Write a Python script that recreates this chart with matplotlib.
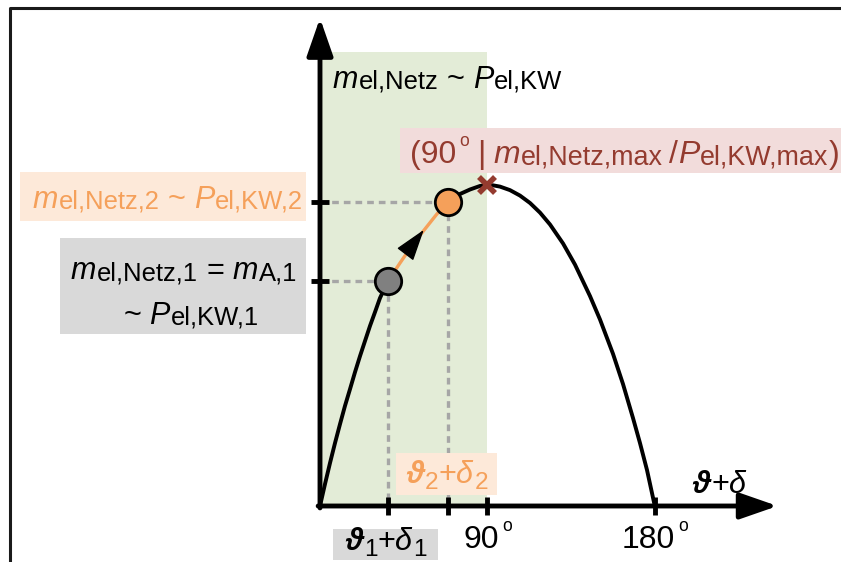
import matplotlib.pyplot as plt
from matplotlib.patches import Rectangle, FancyArrowPatch
from matplotlib.transforms import Affine2D

# power-angle curve (load angle in degrees, normalised m / P)
angle = [0, 2.69, 5.38, 8.06, 10.75, 13.44, 16.13, 18.82, 21.51, 24.19, 26.88, 29.57, 32.26, 36.56,
         43.01, 50.0, 56.45, 62.9, 68.82,
         75.27, 80.65, 86.02, 90.0, 93.0, 96.77, 102.15, 107.53, 112.9, 118.28, 123.66, 130.65,
         137.1, 145.16, 150.54, 157.53, 162.9, 168.28, 172.04, 175.81, 180]
power = [0, 0.0685, 0.134, 0.196, 0.255, 0.312, 0.364, 0.417, 0.467, 0.514, 0.561, 0.604, 0.648, 0.701,
         0.757, 0.816, 0.863, 0.910, 0.947,
         0.972, 0.986, 0.997, 1.0, 0.999, 0.995, 0.984, 0.967, 0.944, 0.914, 0.877, 0.818,
         0.752, 0.654, 0.581, 0.474, 0.380, 0.274, 0.196, 0.112, 0]

# operating points 1 and 2, maximum and stability limit
op_angle = [36.56, 68.82]
op_power = [0.701, 0.947]
max_angle = 90
max_power = 1.0
stable_limit = 90
x_ticks = [90, 180]
x_tick_labels = ['90', '180']

GREEN = '#e3ecd7'
ORANGE = '#f5a05a'
ORANGE_BG = '#fde9d9'
GRAY_BG = '#d9d9d9'
RED = '#943b2f'
RED_BG = '#f2dcdb'
DASH = '#a6a6a6'

plt.rcParams['font.family'] = ['Liberation Sans', 'DejaVu Sans']

fig = plt.figure(figsize=(8.41, 5.62), dpi=100)
ax = fig.add_axes([0, 0, 1, 1])
k = 1.86      # pixels per degree
amp = 321     # pixels for the maximum
ax.set_xlim(-320 / k, 521 / k)
ax.set_ylim(-56 / amp, 506 / amp)
ax.axis('off')

# pixel coordinates (from top left) for the annotation layout
pix = Affine2D().scale(1 / 841, -1 / 562).translate(0, 1) + fig.transFigure
renderer = fig.canvas.get_renderer()


def to_pix(xd, yd):
    dx, dy = ax.transData.transform((xd, yd))
    return dx, 562 - dy


def rich(x, y, parts, size, ha='left', color='k', sub=0.84):
    """Write a label piece by piece: i italic, r regular, b bold italic,
    s subscript, l lowered subscript, u degree ring, g gap in pixels."""
    texts = []
    cx = x
    for s, kind in parts:
        if kind == 'g':
            cx += s
            continue
        fs, style, weight, dy = size, 'normal', 'normal', 0
        if kind == 'i':
            style = 'italic'
        elif kind == 'b':
            style, weight = 'italic', 'bold'
        elif kind == 's':
            fs, dy = size * sub, 1
        elif kind == 'l':
            fs, dy = size * 0.8, 6
        elif kind == 'u':
            fs, dy = size * 0.55, -size * 0.72
            cx += 3
        t = ax.text(cx, y + dy, s, transform=pix, fontsize=fs, style=style, weight=weight,
                    color=color, va='baseline', ha='left', zorder=7)
        cx += t.get_window_extent(renderer).width + (1 if kind in 'ib' else 0)
        texts.append(t)
    shift = {'left': 0, 'center': (cx - x) / 2, 'right': cx - x}[ha]
    for t in texts:
        t.set_x(t.get_position()[0] - shift)


# outer frame
ax.plot([10, 10, 841], [562, 8, 8], transform=pix, color='#1a1a1a', lw=2.2, clip_on=False)

# stable region
ax.add_patch(Rectangle((0, 0), stable_limit, 1.414, color=GREEN, lw=0, zorder=0))

# guide lines to the operating points
for a, p in zip(op_angle, op_power):
    ax.plot([0, a, a], [p, p, 0], ls=(0, (2, 1.5)), color=DASH, lw=2.4, zorder=1)

# axes with arrows
head = '-|>,head_length=2.3,head_width=0.8'
ax.add_patch(FancyArrowPatch((0, -0.006), (0, 1.52), arrowstyle=head, mutation_scale=10,
                             lw=3.5, color='k', shrinkA=0, shrinkB=0, zorder=3))
ax.add_patch(FancyArrowPatch((-1, 0), (246, 0), arrowstyle=head, mutation_scale=10,
                             lw=3.5, color='k', shrinkA=0, shrinkB=0, zorder=3))
ax.plot([0, 0], op_power, '_', ms=13, mew=3.5, color='k', zorder=3)
ax.plot(op_angle + x_ticks, [0] * 4, '|', ms=13, mew=3.5, color='k', zorder=3)

# curve: black, orange between the two operating points
i1 = angle.index(op_angle[0])
i2 = angle.index(op_angle[1])
ax.plot(angle[:i1 + 1], power[:i1 + 1], color='k', lw=2.8, zorder=4, solid_capstyle='round')
ax.plot(angle[i2:], power[i2:], color='k', lw=2.8, zorder=4, solid_capstyle='round')
ax.plot(angle[i1:i2 + 1], power[i1:i2 + 1], color=ORANGE, lw=2.4, zorder=4)

# direction arrow on the orange part
da = op_angle[1] - op_angle[0]
dp = op_power[1] - op_power[0]
mid = (angle[i1 + 2], power[i1 + 2])
ax.add_patch(FancyArrowPatch((mid[0] - 0.08 * da, mid[1] - 0.08 * dp), (mid[0] + 0.18 * da, mid[1] + 0.18 * dp),
                             arrowstyle='-|>,head_length=2.0,head_width=0.65', mutation_scale=10,
                             lw=1, color='k', shrinkA=0, shrinkB=0, zorder=5))

ax.plot(op_angle[0], op_power[0], 'o', ms=19, mfc='#808080', mec='k', mew=2, zorder=6)
ax.plot(op_angle[1], op_power[1], 'o', ms=19, mfc=ORANGE, mec='k', mew=2, zorder=6)
ax.plot(max_angle, max_power, 'x', ms=12, mew=4, color=RED, zorder=6)

# label boxes
ax.add_patch(Rectangle((20, 172), 286, 49, transform=pix, color=ORANGE_BG, lw=0, zorder=2))
ax.add_patch(Rectangle((60, 238), 246, 96, transform=pix, color=GRAY_BG, lw=0, zorder=2))
ax.add_patch(Rectangle((400, 128), 441, 45, transform=pix, color=RED_BG, lw=0, zorder=2))
ax.add_patch(Rectangle((396, 453), 101, 42, transform=pix, color=ORANGE_BG, lw=0, zorder=2))
ax.add_patch(Rectangle((333, 529), 105, 31, transform=pix, color=GRAY_BG, lw=0, zorder=2))

# tick labels on the angle axis
for t, lab in zip(x_ticks, x_tick_labels):
    tx, ty = to_pix(t, 0)
    rich(tx, ty + 42, [(lab, 'r'), ('o', 'u')], 23, ha='center')

rich(333, 88, [('m', 'i'), ('el,Netz', 's'), (8, 'g'), ('~', 'r'), (8, 'g'),
               ('P', 'i'), ('el,KW', 's')], 22)
rich(303, 208, [('m', 'i'), ('el,Netz,2', 's'), (8, 'g'), ('~', 'r'), (8, 'g'),
                ('P', 'i'), ('el,KW,2', 's')], 22, ha='right', color=ORANGE)
rich(184, 279, [('m', 'i'), ('el,Netz,1', 's'), (8, 'g'), ('=', 'r'), (8, 'g'),
                ('m', 'i'), ('A,1', 's')], 22, ha='center')
rich(191, 324, [('~', 'r'), (8, 'g'), ('P', 'i'), ('el,KW,1', 's')], 22, ha='center')
rich(410, 163, [('(90', 'r'), ('o', 'u'), (8, 'g'), ('|', 'r'), (8, 'g'), ('m', 'i'),
                ('el,Netz,max', 's'), (6, 'g'), ('/', 'r'), ('P', 'i'), ('el,KW,max', 's'),
                (')', 'r')], 23, color=RED)
rich(447, 483, [('ϑ', 'b'), ('2', 'l'), ('+', 'r'), ('δ', 'i'), ('2', 'l')], 22, ha='center', color=ORANGE)
rich(386, 550, [('ϑ', 'b'), ('1', 'l'), ('+', 'r'), ('δ', 'i'), ('1', 'l')], 22, ha='center')
rich(720, 493, [('ϑ', 'b'), ('+', 'r'), ('δ', 'i')], 22, ha='center')

fig.savefig('out.png', dpi=100)
